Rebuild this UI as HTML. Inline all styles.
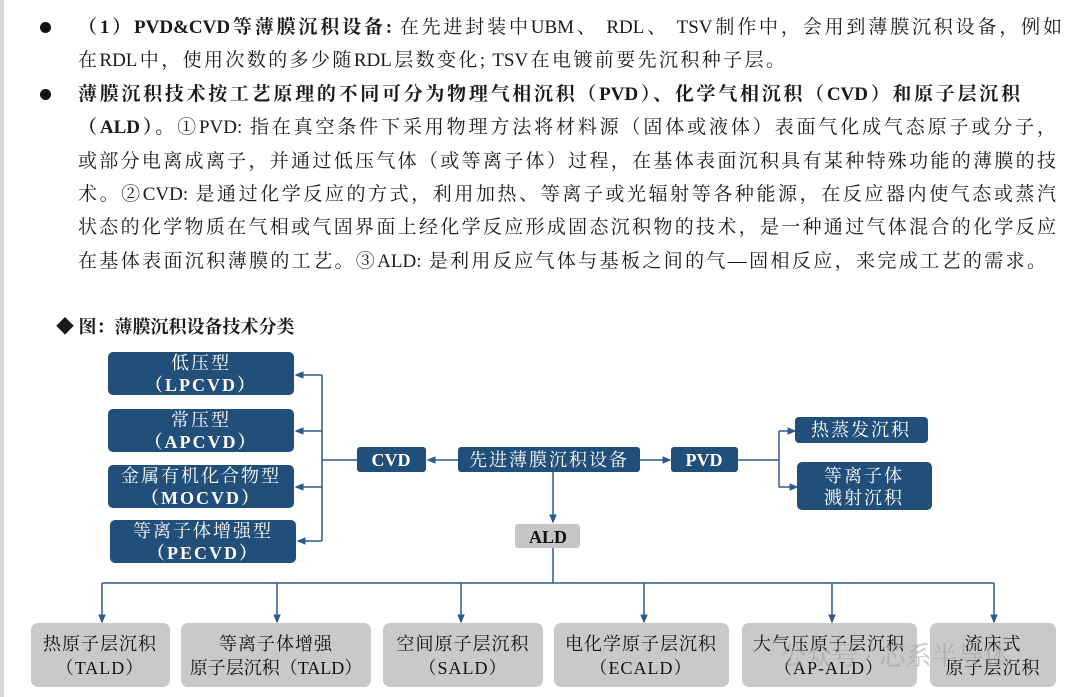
<!DOCTYPE html>
<html><head><meta charset="utf-8"><style>
body{margin:0;width:1077px;height:697px;background:#fff;position:relative;overflow:hidden;font-family:"Liberation Serif","Noto Serif CJK SC",serif;color:#1a1a1a}
.lb{position:absolute;left:0;top:0;width:4px;height:697px;background:#d8d8d8}
.l{position:absolute;left:78px;font-size:19px;line-height:24px;white-space:nowrap;text-align:justify;text-align-last:justify}
.b{font-weight:bold}
.dot{position:absolute;left:40px;width:11px;height:11px;border-radius:50%;background:#111}
svg text{font-family:"Liberation Serif","Noto Serif CJK SC",serif}
</style></head><body>
<div class="lb"></div>
<div class="dot" style="top:22px"></div>
<div class="dot" style="top:89px"></div>
<div class="l" style="top:16px;width:984px"><span class="b">（1）PVD&amp;CVD等薄膜沉积设备:</span> 在先进封装中UBM、 RDL、 TSV制作中，会用到薄膜沉积设备，例如</div>
<div class="l" style="top:49px;width:707px">在RDL中，使用次数的多少随RDL层数变化; TSV在电镀前要先沉积种子层。</div>
<div class="l b" style="top:83px;width:942px">薄膜沉积技术按工艺原理的不同可分为物理气相沉积（PVD）、化学气相沉积（CVD）和原子层沉积</div>
<div class="l" style="top:116px;width:978px"><span class="b">（ALD）。</span>①PVD: 指在真空条件下采用物理方法将材料源（固体或液体）表面气化成气态原子或分子，</div>
<div class="l" style="top:150px;width:978px">或部分电离成离子，并通过低压气体（或等离子体）过程，在基体表面沉积具有某种特殊功能的薄膜的技</div>
<div class="l" style="top:183px;width:978px">术。②CVD: 是通过化学反应的方式，利用加热、等离子或光辐射等各种能源，在反应器内使气态或蒸汽</div>
<div class="l" style="top:216px;width:978px">状态的化学物质在气相或气固界面上经化学反应形成固态沉积物的技术，是一种通过气体混合的化学反应</div>
<div class="l" style="top:250px;width:968px">在基体表面沉积薄膜的工艺。③ALD: 是利用反应气体与基板之间的气—固相反应，来完成工艺的需求。</div>
<div style="position:absolute;left:56px;top:315px;font-size:18px;font-weight:bold;line-height:24px">◆ 图：薄膜沉积设备技术分类</div>
<svg width="1077" height="697" style="position:absolute;left:0;top:0">
<defs><marker id="a" markerWidth="6" markerHeight="6" refX="5" refY="3" orient="auto"><path d="M0,0.5 L6,3 L0,5.5z" fill="#2f5a8c"/></marker></defs>
<g stroke="#2f5a8c" stroke-width="1.5" fill="none">
<path d="M357,460 H322"/><path d="M322,375 V541"/>
<path d="M322,375 H296" marker-end="url(#a)"/><path d="M322,431 H296" marker-end="url(#a)"/>
<path d="M322,487 H296" marker-end="url(#a)"/><path d="M322,541 H298" marker-end="url(#a)"/>
<path d="M458,460 H428" marker-end="url(#a)"/>
<path d="M640,460 H670" marker-end="url(#a)"/>
<path d="M738,460 H779 M779,431 V487"/>
<path d="M779,431 H795" marker-end="url(#a)"/><path d="M779,487 H797" marker-end="url(#a)"/>
<path d="M553,472 V522" marker-end="url(#a)"/>
<path d="M553,548 V583 M102,583 H994"/>
<path d="M102,583 V622" marker-end="url(#a)"/><path d="M277,583 V622" marker-end="url(#a)"/>
<path d="M461,583 V622" marker-end="url(#a)"/><path d="M644,583 V622" marker-end="url(#a)"/>
<path d="M832,583 V622" marker-end="url(#a)"/><path d="M994,583 V622" marker-end="url(#a)"/>
</g>
<g fill="#214f7a">
<rect x="108" y="352" width="186" height="43" rx="5"/>
<rect x="108" y="409" width="186" height="43" rx="5"/>
<rect x="108" y="465" width="186" height="43" rx="5"/>
<rect x="110" y="520" width="186" height="43" rx="5"/>
<rect x="357" y="447" width="69" height="25" rx="3"/>
<rect x="458" y="447" width="182" height="25" rx="3"/>
<rect x="671" y="447" width="67" height="25" rx="3"/>
<rect x="795" y="417" width="133" height="26" rx="4"/>
<rect x="797" y="462" width="135" height="48" rx="5"/>
</g>
<rect x="515" y="524" width="65" height="24" rx="3" fill="#c6c6c6"/>
<g fill="#c9c9c9">
<rect x="31" y="623" width="139" height="64" rx="7"/>
<rect x="181" y="623" width="190" height="64" rx="7"/>
<rect x="383" y="623" width="160" height="64" rx="7"/>
<rect x="554" y="623" width="175" height="64" rx="7"/>
<rect x="742" y="623" width="175" height="64" rx="7"/>
<rect x="930" y="623" width="126" height="64" rx="7"/>
</g>
<g fill="#fff" font-size="18" text-anchor="middle" letter-spacing="2">
<text x="201" y="369">低压型</text><text x="201" y="391" font-weight="bold">（LPCVD）</text>
<text x="201" y="426">常压型</text><text x="201" y="448" font-weight="bold">（APCVD）</text>
<text x="201" y="482">金属有机化合物型</text><text x="201" y="504" font-weight="bold">（MOCVD）</text>
<text x="203" y="537">等离子体增强型</text><text x="203" y="559" font-weight="bold">（PECVD）</text>
<text x="391" y="466" font-weight="bold" letter-spacing="0">CVD</text>
<text x="549" y="466">先进薄膜沉积设备</text>
<text x="704" y="466" font-weight="bold" letter-spacing="0">PVD</text>
<text x="861" y="436">热蒸发沉积</text>
<text x="864" y="482">等离子体</text><text x="864" y="504">溅射沉积</text>
</g>
<text x="548" y="543" font-size="18" font-weight="bold" text-anchor="middle" fill="#111">ALD</text>
<g fill="#111" font-size="18" text-anchor="middle" letter-spacing="1">
<text x="100" y="650">热原子层沉积</text><text x="100" y="674">（TALD）</text>
<text x="276" y="650">等离子体增强</text><text x="276" y="674" letter-spacing="0">原子层沉积（TALD）</text>
<text x="463" y="650">空间原子层沉积</text><text x="463" y="674">（SALD）</text>
<text x="641" y="650">电化学原子层沉积</text><text x="641" y="674">（ECALD）</text>
<text x="829" y="650">大气压原子层沉积</text><text x="829" y="674">（AP-ALD）</text>
<text x="993" y="650">流床式</text><text x="993" y="674">原子层沉积</text>
</g>
<text x="780" y="665" font-size="26" fill="#999" fill-opacity="0.55" font-family="Liberation Sans,Noto Sans CJK SC,sans-serif">公众号 · 芯系半导体</text>
</svg>
</body></html>
